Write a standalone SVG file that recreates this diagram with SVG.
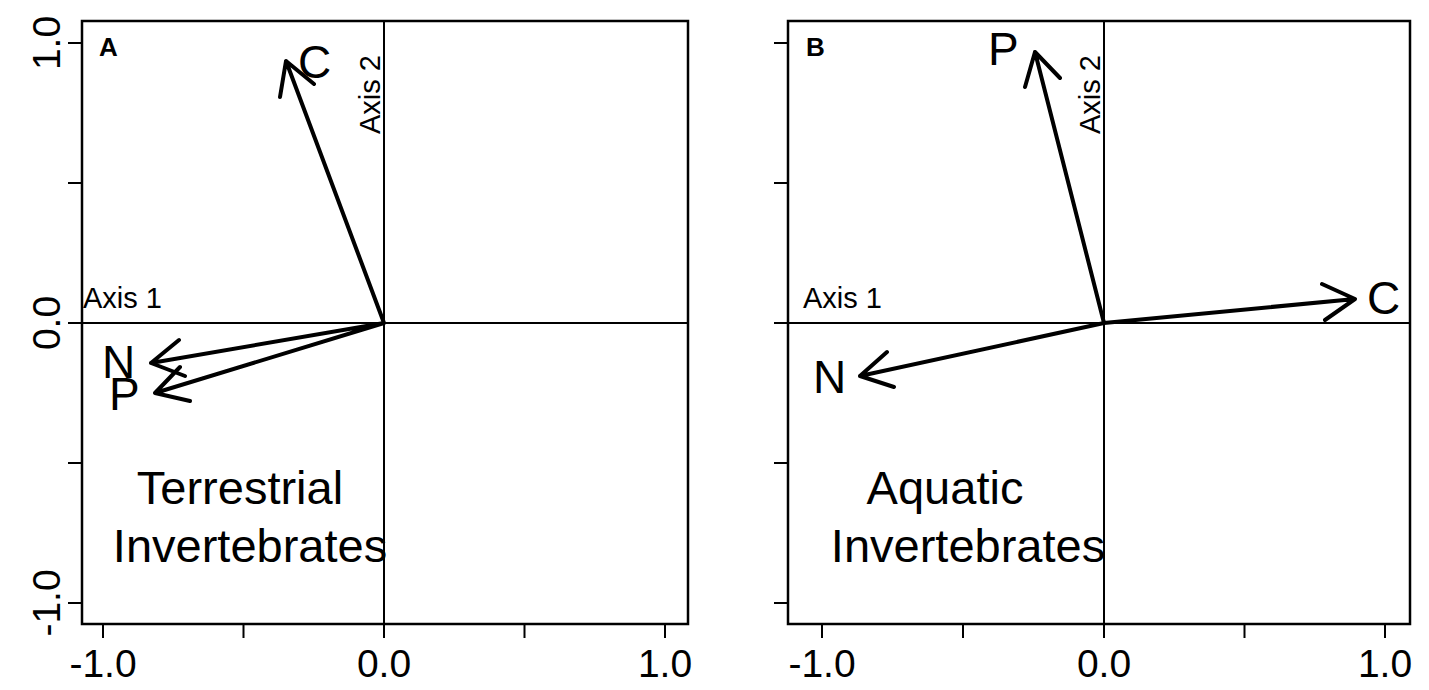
<svg xmlns="http://www.w3.org/2000/svg" width="1429" height="690" viewBox="0 0 1429 690">
<style>
text{font-family:"Liberation Sans",Arial,sans-serif;fill:#000}
.box{fill:none;stroke:#000;stroke-width:2.5}
.ax{stroke:#000;stroke-width:2}
.arr{fill:none;stroke:#000;stroke-width:4;stroke-linecap:round;stroke-linejoin:round}
.tick{font-size:39px}
.lbl{font-size:46px}
.big{font-size:47px;text-anchor:middle}
.axl{font-size:29px}
.pl{font-size:26px;font-weight:bold}
</style>
<rect width="1429" height="690" fill="#fff"/>
<g id="panelA">
<rect class="box" x="82" y="21" width="606" height="603"/>
<path class="ax" d="M82 323H688M384 21V624"/>
<path class="ax" d="M103 624v14M243.5 624v14M384 624v14M524.5 624v14M665 624v14M82 43h-14M82 183h-14M82 323h-14M82 463h-14M82 603h-14"/>
<g class="tick" text-anchor="middle">
<text x="103" y="677">-1.0</text><text x="384" y="677">0.0</text><text x="665" y="677">1.0</text>
<text transform="translate(60,43) rotate(-90)">1.0</text>
<text transform="translate(60,323) rotate(-90)">0.0</text>
<text transform="translate(60,603) rotate(-90)">-1.0</text>
</g>
<text class="pl" x="99" y="56">A</text>
<text class="axl" x="83" y="308">Axis 1</text>
<text class="axl" transform="translate(380,134) rotate(-90)">Axis 2</text>
<path class="arr" d="M384 323L286 61M280 97L286 61L314 84M384 323L151 363M185 376L151 363L179 340M384 323L155 393M190 401L155 393L180 367"/>
<text class="lbl" x="298" y="78">C</text>
<text class="lbl" x="102" y="378">N</text>
<text class="lbl" x="109" y="410">P</text>
<text class="big" x="240" y="504">Terrestrial</text>
<text class="big" x="250" y="562">Invertebrates</text>
</g>
<g id="panelB">
<rect class="box" x="788" y="21" width="622" height="603"/>
<path class="ax" d="M788 323H1410M1104 21V624"/>
<path class="ax" d="M822 624v14M963 624v14M1104 624v14M1244.5 624v14M1385 624v14M788 43h-14M788 183h-14M788 323h-14M788 463h-14M788 603h-14"/>
<g class="tick" text-anchor="middle">
<text x="822" y="677">-1.0</text><text x="1104" y="677">0.0</text><text x="1385" y="677">1.0</text>
</g>
<text class="pl" x="806" y="56">B</text>
<text class="axl" x="803" y="308">Axis 1</text>
<text class="axl" transform="translate(1100,134) rotate(-90)">Axis 2</text>
<path class="arr" d="M1104 323L1035 52M1025 87L1035 52L1060 78M1104 323L1355 299M1322 284L1355 299L1325 320M1104 323L860 376M894 387L860 376L887 352"/>
<text class="lbl" x="988" y="65">P</text>
<text class="lbl" x="1367" y="314">C</text>
<text class="lbl" x="813" y="393">N</text>
<text class="big" x="945" y="504">Aquatic</text>
<text class="big" x="968" y="562">Invertebrates</text>
</g>
</svg>
